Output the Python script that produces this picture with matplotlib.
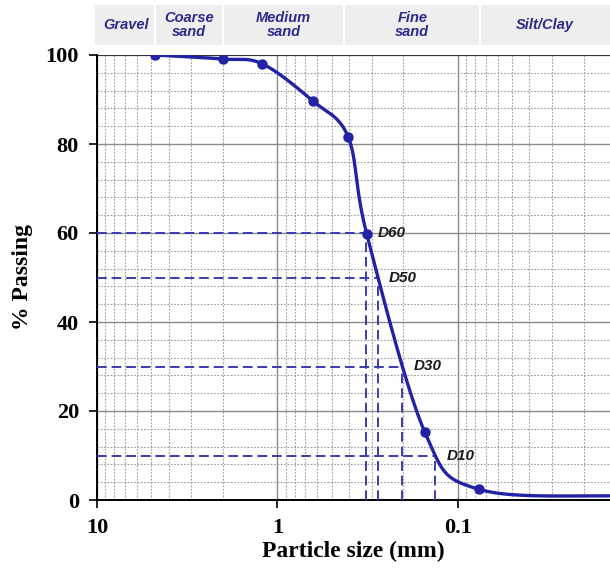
import numpy as np
import matplotlib
matplotlib.use("Agg")
import matplotlib.pyplot as plt
from matplotlib.ticker import LogLocator, MultipleLocator, FixedLocator, NullFormatter
import matplotlib.transforms as mtransforms

# sieve analysis results
sizes = [4.78, 2.01, 1.21, 0.637, 0.404, 0.319, 0.152, 0.0762, 0.01]
passing = [100.0, 99.1, 98.0, 89.7, 81.5, 59.7, 15.2, 2.4, 0.8]

# soil classes along the top (USCS boundaries, mm)
class_edges = [10, 4.75, 2.0, 0.425, 0.075, 0.0143]
class_names = ["Gravel", "Coarse\nsand", "Medium\nsand", "Fine\nsand", "Silt/Clay"]

d_levels = [60, 50, 30, 10]
d_names = ["D60", "D50", "D30", "D10"]

x_ticks = [10, 1, 0.1]
x_ticklabels = ["10", "1", "0.1"]

line_col = "#2222a6"
dash_col = "#3b3bb0"
serif = ["Liberation Serif", "DejaVu Serif"]
sans = ["Liberation Sans", "DejaVu Sans"]


def smooth_curve(ax, xs, ys, n=60):
    # Catmull-Rom style bezier smoothing done in screen space
    P = ax.transData.transform(np.column_stack([xs, ys]))
    T = np.zeros_like(P)
    T[1:-1] = (P[2:] - P[:-2]) / 2
    T[0] = P[1] - P[0]
    T[-1] = P[-1] - P[-2]
    t = np.linspace(0, 1, n)[:, None]
    pts = []
    for k in range(len(P) - 1):
        p0, p3 = P[k], P[k + 1]
        p1 = p0 + T[k] / 3
        p2 = p3 - T[k + 1] / 3
        seg = ((1 - t) ** 3 * p0 + 3 * t * (1 - t) ** 2 * p1
               + 3 * t ** 2 * (1 - t) * p2 + t ** 3 * p3)
        pts.append(seg if k == 0 else seg[1:])
    pts = np.vstack(pts)
    data = ax.transData.inverted().transform(pts)
    return data[:, 0], data[:, 1]


fig = plt.figure(figsize=(6.1, 5.74), dpi=100)
ax = fig.add_axes([97 / 610, 74 / 574, 513 / 610, 445 / 574])

ax.set_xscale("log")
ax.set_xlim(10, 0.0143)
ax.set_ylim(0, 100)

# grid: solid majors, dotted minors
ax.xaxis.set_major_locator(FixedLocator(x_ticks))
ax.xaxis.set_minor_locator(LogLocator(base=10, subs=np.arange(2, 10)))
ax.xaxis.set_minor_formatter(NullFormatter())
ax.set_xticklabels(x_ticklabels)
ax.yaxis.set_major_locator(MultipleLocator(20))
ax.yaxis.set_minor_locator(MultipleLocator(4))
ax.grid(which="major", color="#8a8a8a", lw=1.0, ls="-")
ax.grid(which="minor", color="#9a9a9a", lw=0.8, ls=(0, (1.5, 1.5)))
ax.set_axisbelow(True)

for s in ["top", "right"]:
    ax.spines[s].set_visible(False)
for s in ["left", "bottom"]:
    ax.spines[s].set_linewidth(1.4)
ax.axhline(100, color="#333333", lw=1.4, zorder=1)

ax.tick_params(which="major", direction="out", length=6, width=1.2, pad=7)
ax.tick_params(which="minor", length=0)
for lab in ax.get_xticklabels() + ax.get_yticklabels():
    lab.set_family(serif)
    lab.set_fontweight("bold")
    lab.set_fontsize(16)

cx, cy = smooth_curve(ax, sizes, passing)

# D-value guides
order = np.argsort(cy)
for lev, name in zip(d_levels, d_names):
    dx = 10 ** np.interp(lev, cy[order], np.log10(cx)[order])
    ax.plot([10, dx], [lev, lev], color=dash_col, lw=1.4, dashes=(5, 2.5), zorder=3)
    ax.plot([dx, dx], [0, lev], color=dash_col, lw=1.4, dashes=(5, 2.5), zorder=3)
    ax.annotate(name, (dx, lev), xytext=(8, 0), textcoords="offset points",
                ha="left", va="center", fontsize=11, fontweight="bold",
                fontstyle="italic", family=sans, color="#1a1a1a", zorder=5)

ax.plot(cx, cy, color=line_col, lw=2.4, zorder=4)
ax.plot(sizes, passing, "o", color=line_col, ms=6.5, zorder=4)

# soil class band above the plot
trans = mtransforms.blended_transform_factory(ax.transData, fig.transFigure)
y0 = (574 - 45) / 574
y1 = (574 - 5) / 574
for k, name in enumerate(class_names):
    xa, xb = class_edges[k], class_edges[k + 1]
    la = np.log10(xa)
    lb = np.log10(xb)
    gap = 0.006
    ra = 10 ** (la - gap) if k > 0 else 10 ** (la + 0.01)
    rb = 10 ** (lb + gap) if k < len(class_names) - 1 else xb
    rect = plt.Rectangle((ra, y0), rb - ra, y1 - y0, transform=trans,
                         facecolor="#eeeeee", edgecolor="none", clip_on=False)
    fig.add_artist(rect)
    xm = 10 ** ((la + lb) / 2)
    fig.text(0, (y0 + y1) / 2, name, transform=trans, ha="center", va="center",
             fontsize=10.5, fontweight="bold", fontstyle="italic", family=sans,
             color="#2b2b8c", linespacing=1.0).set_x(xm)

ax.set_xlabel("Particle size (mm)", family=serif, fontweight="bold", fontsize=17, labelpad=2)
ax.set_ylabel("% Passing", family=serif, fontweight="bold", fontsize=17, labelpad=9)

fig.savefig("out.png", dpi=100)
